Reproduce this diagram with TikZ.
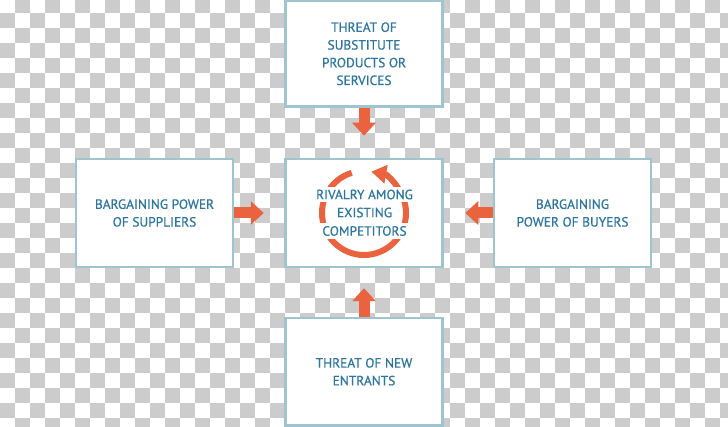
\documentclass[tikz,border=0pt]{standalone}
\usepackage{fontspec}
\setmainfont{PT Sans}[FakeBold=0.6]
\usetikzlibrary{arrows.meta}
\definecolor{chk}{RGB}{204,204,204}
\definecolor{boxline}{RGB}{158,196,207}
\definecolor{txt}{RGB}{44,118,160}
\definecolor{arr}{RGB}{234,98,62}
\begin{document}
\begin{tikzpicture}[x=1pt,y=-1pt,
  forcebox/.style={draw=boxline,line width=2.5pt,fill=white,minimum width=157pt,minimum height=108pt,inner sep=0pt,align=center,text=txt,font=\fontsize{13.4}{17.7}\selectfont},
  rivtext/.style={fill=white,inner xsep=2pt,inner ysep=3pt,text=txt,font=\fontsize{13.4}{15}\selectfont},
  bigarrow/.style={draw=arr,line width=11pt,-{Triangle[width=23pt,length=13pt]},shorten >=#1}]
\useasboundingbox (0,0) rectangle (728,427);
\clip (0,0) rectangle (728,427);
\fill[white] (0,0) rectangle (728,427);
\foreach \i in {0,...,48}{
  \foreach \j in {0,...,14}{
    \pgfmathtruncatemacro\r{2*\j+1-mod(\i,2)}
    \fill[chk] (15*\i,-1.7+15*\r) rectangle ++(15,15);
  }
}
\node[forcebox,minimum height=105.5pt] (sub) at (364,53.75) {THREAT OF\\SUBSTITUTE\\PRODUCTS OR\\SERVICES};
\node[forcebox] (riv) at (364,213) {};
\node[forcebox] (sup) at (154.5,213) {BARGAINING POWER\\OF SUPPLIERS};
\node[forcebox] (buy) at (572.5,213) {BARGAINING\\POWER OF BUYERS};
\node[forcebox,minimum height=107.5pt] (ent) at (364,371.75) {THREAT OF NEW\\ENTRANTS};
\draw[arr,line width=6pt,-{Triangle[width=18pt,length=15pt]}] (riv.center) ++(-107:42) arc[start angle=-107,end angle=-440,radius=42];
\node[rivtext] (r1) at (364.5,194.5) {RIVALRY AMONG};
\node[rivtext] (r2) at (364.5,212.5) {EXISTING};
\node[rivtext] (r3) at (364.5,231) {COMPETITORS};
\draw[bigarrow=22pt] (sub) -- (riv);
\draw[bigarrow=20.5pt] (sup) -- (riv);
\draw[bigarrow=21.5pt] (buy) -- (riv);
\draw[bigarrow=20pt] (ent) -- (riv);
\end{tikzpicture}
\end{document}
